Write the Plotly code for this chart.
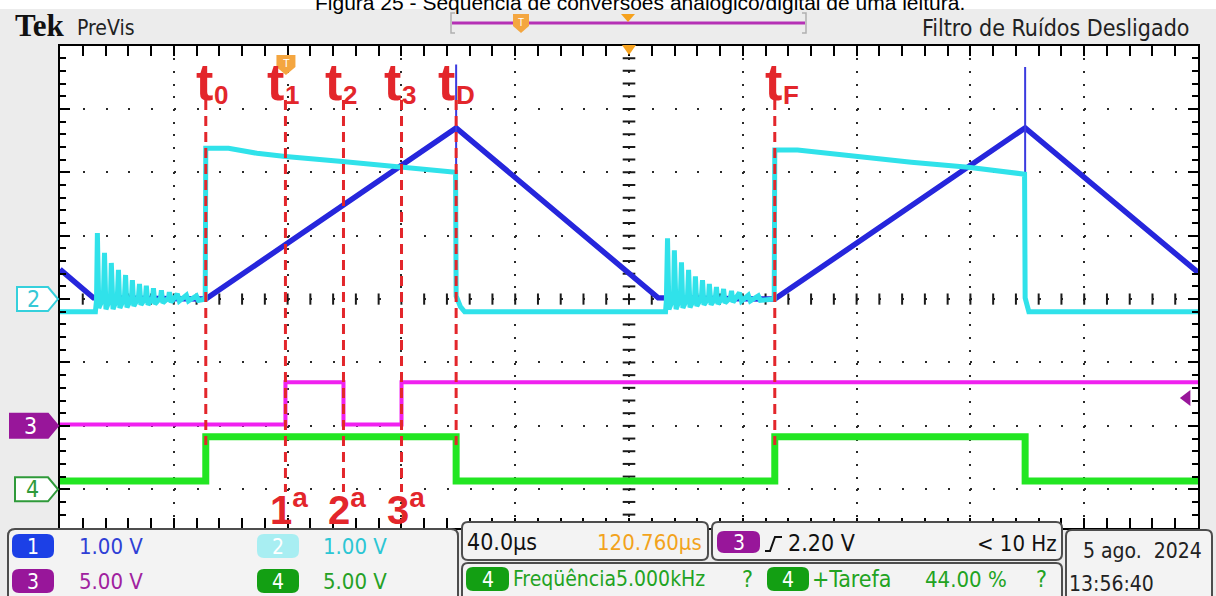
import numpy as np
import plotly.graph_objects as go

W, H = 1216, 596

# ---------------- acquisition settings ----------------
TIME_PER_DIV = 40.0            # µs/div
H_POSITION = 120.760           # µs from trigger point to screen centre
N_HDIV = 10
TRIGGER_TIME = 0.0
TRIGGER_LEVEL = 2.20           # V, channel 3 rising edge
DIV_TOP = 4.0
DIV_BOTTOM = -3.611            # lowest graticule row left visible above the readout panel

CH_VOLTS_PER_DIV = [1.0, 1.0, 5.0, 5.0]
CH_POSITION = [0.0, 0.0, -2.0, -3.0]     # ground marker, in divisions

# ---------------- channel 1: triangle (integrator output) ----------------
CH1_T = [-79.24, -67.5, -28.0, 60.0, 131.0, 172.0, 260.0, 320.76]
CH1_V = [0.47, 0.02, 0.0, 2.70, 0.02, 0.0, 2.70, 0.42]
CH1_GLITCH_T = [60.0, 60.0, None, 260.0, 260.0]
CH1_GLITCH_V = [3.70, 1.88, None, 3.66, 1.85]

# ---------------- channel 2: sample/hold node ----------------
CH2_T = [
    -79.24, -66.8,
    -66.4, -66.1, -65.6, -64.0, -63.6, -63.1, -61.5, -61.2, -60.6,
    -59.1, -58.7, -58.2, -56.6, -56.2, -55.7, -54.1, -53.8, -53.3,
    -51.7, -51.3, -50.8, -49.2, -48.9, -48.3, -46.7, -46.4, -45.9,
    -43.9, -43.6, -43.1, -41.1, -40.8, -40.2, -38.0, -37.3, -34.8,
    -34.1, -31.3, -30.6, -28.2,
    -28.0, -20.0, -10.0, 0.0, 20.0, 40.0, 59.8,
    60.0, 61.5, 63.0, 133.6,
    133.9, 134.3, 134.8, 136.4, 136.7, 137.3, 138.8, 139.2, 139.7,
    141.3, 141.7, 142.2, 143.8, 144.1, 144.6, 146.2, 146.6, 147.1,
    148.7, 149.0, 149.6, 151.1, 151.5, 152.0, 153.6, 154.0, 154.5,
    156.4, 156.8, 157.3, 159.6, 160.3, 162.7, 163.4, 166.2, 166.9,
    171.8,
    172.0, 180.0, 200.0, 220.0, 240.0, 259.8,
    260.0, 261.3, 320.76,
]
CH2_V = [
    -0.20, -0.20,
    -0.02, 1.04, -0.14, 0.02, 0.73, -0.16, 0.02, 0.57, -0.16,
    0.02, 0.46, -0.14, 0.02, 0.38, -0.13, 0.02, 0.30, -0.11,
    0.02, 0.24, -0.09, 0.02, 0.21, -0.09, 0.02, 0.17, -0.08,
    0.02, 0.14, -0.06, 0.02, 0.11, -0.05, 0.08, -0.03, 0.06,
    -0.03, 0.05, -0.02, 0.0,
    2.38, 2.38, 2.30, 2.25, 2.17, 2.09, 2.00,
    0.05, -0.12, -0.20, -0.20,
    -0.02, 0.96, -0.16, 0.02, 0.77, -0.16, 0.02, 0.58, -0.14,
    0.02, 0.46, -0.13, 0.02, 0.36, -0.11, 0.02, 0.30, -0.09,
    0.02, 0.24, -0.09, 0.02, 0.19, -0.08, 0.02, 0.16, -0.06,
    0.02, 0.13, -0.05, 0.10, -0.03, 0.06, -0.03, 0.05, -0.02,
    0.0,
    2.35, 2.35, 2.25, 2.16, 2.08, 1.97,
    0.02, -0.20, -0.20,
]

# ---------------- channel 3: comparator / conversion strobe ----------------
CH3_T = [-79.24, 0.0, 0.0, 20.4, 20.4, 40.8, 40.8, 320.76]
CH3_V = [0.10, 0.10, 3.45, 3.45, 0.10, 0.10, 3.45, 3.45]

# ---------------- channel 4: task pulse (5 kHz, 44 %) ----------------
CH4_T = [-79.24, -28.0, -28.0, 60.0, 60.0, 172.0, 172.0, 260.0, 260.0, 320.76]
CH4_V = [0.65, 0.65, 4.15, 4.15, 0.65, 0.65, 4.15, 4.15, 0.65, 0.65]

# ---------------- time markers ----------------
EVENT_SUBSCRIPTS = ["0", "1", "2", "3", "D", "F"]
EVENT_TIMES = [-28.0, 0.0, 20.4, 40.8, 60.0, 172.0]
CONVERSION_ORDINALS = ["1", "2", "3"]
CONVERSION_TIMES = [0.0, 20.4, 40.8]

# ---------------- readout texts ----------------
CH_SCALE_TEXT = ["1.00 V", "1.00 V", "5.00 V", "5.00 V"]
TIMEBASE_TEXT = "40.0µs"
HPOS_TEXT = "120.760µs"
TRIGGER_TEXT = "2.20 V"
TRIGGER_FREQ_TEXT = "< 10 Hz"
MEAS_FREQ_TEXT = "Freqüência5.000kHz"
MEAS_DUTY_LABEL = "+Tarefa"
MEAS_DUTY_TEXT = "44.00 %"
DATE_TEXT = "5 ago.  2024"
TIME_TEXT = "13:56:40"
TITLE = "Figura 25 - Sequência de conversões analógico/digital de uma leitura."

# ---------------- styling ----------------
CH_COLORS = ["#2626dc", "#30e2ea", "#f021f0", "#22e622"]
CH_WIDTHS = [5.5, 5, 4, 7]
CH_TEXT_COLORS = ["#2f3fd6", "#2cc6d4", "#a0229f", "#25a125"]
CH_BADGE_COLORS = ["#1c40e6", "#a8eef2", "#98169a", "#139f13"]
RED = "#e3262b"
ORANGE = "#f4a640"
NARROW = "Liberation Sans Narrow, DejaVu Sans Condensed, Arial Narrow, sans-serif"
SANS = "Liberation Sans, Arial, sans-serif"
SERIF = "Liberation Serif, DejaVu Serif, serif"

GRID_L, GRID_R, GRID_T, GRID_B = 60, 1198, 45.5, 528

T_LEFT = H_POSITION - TIME_PER_DIV * N_HDIV / 2
T_RIGHT = H_POSITION + TIME_PER_DIV * N_HDIV / 2
DIV_PX = (GRID_B - GRID_T) / (DIV_TOP - DIV_BOTTOM)
MINOR_X_PX = (GRID_R - GRID_L) / N_HDIV / 5


def sx(px):
    return px / W


def sy(py):
    return 1 - py / H


annotations = []
shapes = []


def text(x, y, s, size, color, anchor="left", family=NARROW):
    annotations.append(dict(
        x=sx(x), y=sy(y), xref="paper", yref="paper", text=s, showarrow=False,
        xanchor=anchor, yanchor="middle",
        font=dict(size=size, color=color, family=family)))


def screen_shape(path, fill="rgba(0,0,0,0)", line="rgba(0,0,0,0)", width=0):
    # path given in screen pixels (x right, y down), anchored at the top-left corner
    shapes.append(dict(
        type="path", xref="paper", yref="paper", xsizemode="pixel", ysizemode="pixel",
        xanchor=0, yanchor=1, path=path, fillcolor=fill,
        line=dict(color=line, width=width), layer="above"))


def poly(points, close=True):
    d = "M" + " L".join(f"{x},{-y}" for x, y in points)
    return d + (" Z" if close else "")


def rounded(x0, y0, x1, y1, r):
    return (f"M{x0 + r},{-y0} L{x1 - r},{-y0} Q{x1},{-y0} {x1},{-(y0 + r)} "
            f"L{x1},{-(y1 - r)} Q{x1},{-y1} {x1 - r},{-y1} L{x0 + r},{-y1} "
            f"Q{x0},{-y1} {x0},{-(y1 - r)} L{x0},{-(y0 + r)} Q{x0},{-y0} {x0 + r},{-y0} Z")


def badge(x0, y0, x1, y1, fill, label):
    screen_shape(rounded(x0, y0, x1, y1, 7), fill=fill)
    text((x0 + x1) / 2, (y0 + y1) / 2 + 1, label, 21, "white", anchor="center")


def ch_range(i):
    return [(DIV_BOTTOM - CH_POSITION[i]) * CH_VOLTS_PER_DIV[i],
            (DIV_TOP - CH_POSITION[i]) * CH_VOLTS_PER_DIV[i]]


fig = go.Figure()

# ---------------- graticule centre-cross tick marks ----------------
minor_t = np.arange(T_LEFT, T_RIGHT + 1e-6, TIME_PER_DIV / 5)[1:-1]
minor_d = np.arange(-18, 20) * 0.2
fig.add_trace(go.Scatter(
    x=minor_t, y=np.zeros_like(minor_t), mode="markers", yaxis="y", cliponaxis=False,
    marker=dict(symbol="line-ns", size=8, line=dict(width=2, color="#1a1a1a")),
    hoverinfo="skip", showlegend=False))
fig.add_trace(go.Scatter(
    x=np.full_like(minor_d, H_POSITION), y=minor_d, mode="markers", yaxis="y",
    marker=dict(symbol="line-ew", size=9, line=dict(width=2, color="#1a1a1a")),
    hoverinfo="skip", showlegend=False))

# ---------------- waveforms ----------------
for idx, (t, v) in [(3, (CH4_T, CH4_V)), (2, (CH3_T, CH3_V)),
                    (1, (CH2_T, CH2_V)), (0, (CH1_T, CH1_V))]:
    fig.add_trace(go.Scatter(
        x=t, y=v, mode="lines", yaxis=f"y{idx + 2}",
        line=dict(color=CH_COLORS[idx], width=CH_WIDTHS[idx]),
        hoverinfo="skip", showlegend=False))
fig.add_trace(go.Scatter(
    x=CH1_GLITCH_T, y=CH1_GLITCH_V, mode="lines", yaxis="y2",
    line=dict(color="#3b3bdf", width=2), hoverinfo="skip", showlegend=False))

# trigger level indicator on the right edge
fig.add_trace(go.Scatter(
    x=[T_RIGHT - 3.9], y=[TRIGGER_LEVEL], mode="markers", yaxis="y4", cliponaxis=False,
    marker=dict(symbol="triangle-left", size=14, color="#98169a"),
    hoverinfo="skip", showlegend=False))

# ---------------- event markers (red dashed lines + labels) ----------------
LABEL_NUDGE = {"0": 8, "F": 8}
for sub, t in zip(EVENT_SUBSCRIPTS, EVENT_TIMES):
    end_py = 492 if t in CONVERSION_TIMES else 445
    shapes.append(dict(type="line", xref="x", yref="paper", x0=t, x1=t,
                       y0=sy(100), y1=sy(end_py), layer="above",
                       line=dict(color=RED, width=3, dash="10px,6px")))
    nudge = LABEL_NUDGE.get(sub, 0)
    annotations.append(dict(x=t, xref="x", y=sy(82), yref="paper", text="<b>t</b>",
                            showarrow=False, xanchor="right", yanchor="middle",
                            xshift=nudge + 1, font=dict(size=52, color=RED, family=SANS)))
    annotations.append(dict(x=t, xref="x", y=sy(95), yref="paper", text=f"<b>{sub}</b>",
                            showarrow=False, xanchor="left", yanchor="middle",
                            xshift=nudge - 2, font=dict(size=26, color=RED, family=SANS)))
for n, t in zip(CONVERSION_ORDINALS, CONVERSION_TIMES):
    annotations.append(dict(x=t, xref="x", y=sy(507), yref="paper",
                            text=f"<b>{n}<sup>a</sup></b>", showarrow=False,
                            xanchor="left", yanchor="middle", xshift=-17,
                            font=dict(size=40, color=RED, family=SANS)))

# trigger point marker (orange "T") and horizontal position marker
shapes.append(dict(type="path", xref="x", yref="paper", xsizemode="pixel", ysizemode="pixel",
                   xanchor=TRIGGER_TIME, yanchor=1,
                   path="M-9,-55 L10,-55 L10,-67 L0.5,-75 L-9,-67 Z",
                   fillcolor=ORANGE, line=dict(width=0), layer="above"))
annotations.append(dict(x=TRIGGER_TIME, xref="x", y=sy(63), yref="paper", text="T",
                        showarrow=False, xanchor="center", yanchor="middle", xshift=1,
                        font=dict(size=11, color="white", family=SANS)))
shapes.append(dict(type="path", xref="x", yref="paper", xsizemode="pixel", ysizemode="pixel",
                   xanchor=H_POSITION, yanchor=1, path="M-7,-45 L7,-45 L0,-55 Z",
                   fillcolor="#f6a21e", line=dict(width=0), layer="above"))

# ---------------- channel ground markers on the left ----------------
MARKERS = [(1, 17, "white", "#35d0dc", "#35c8d6"),
           (2, 10, "#98169a", "#98169a", "white"),
           (3, 15, "white", "#2f9a3a", "#2f9a3a")]
for idx, x0, fill, edge, tcol in MARKERS:
    x1 = 58
    shapes.append(dict(type="path", xref="paper", yref="y", xsizemode="pixel",
                       ysizemode="pixel", xanchor=0, yanchor=CH_POSITION[idx],
                       path=f"M{x0},-12 L{x1 - 10},-12 L{x1},0 L{x1 - 10},12 L{x0},12 Z",
                       fillcolor=fill, line=dict(color=edge, width=2), layer="above"))
    annotations.append(dict(x=sx((x0 + x1 - 10) / 2 + 1), xref="paper", y=CH_POSITION[idx],
                            yref="y", text=str(idx + 1), showarrow=False, xanchor="center",
                            yanchor="middle", font=dict(size=23, color=tcol, family=NARROW)))

# ---------------- top bar ----------------
shapes.append(dict(type="rect", xref="paper", yref="paper", x0=0, x1=1, y0=sy(9), y1=1,
                   fillcolor="white", line=dict(width=0), layer="below"))
text(640, 3, TITLE, 21, "black", anchor="center", family=SANS)
text(13, 26, "<b>Tek</b>", 31, "#111", family=SERIF)
text(75, 28, "PreVis", 21, "#222")
text(1191, 28, "Filtro de Ruídos Desligado", 23, "#222", anchor="right")
screen_shape(poly([(455, 13), (451, 13), (451, 33), (455, 33)], close=False), line="#b0b0b0", width=1.5)
screen_shape(poly([(802, 13), (806, 13), (806, 33), (802, 33)], close=False), line="#b0b0b0", width=1.5)
screen_shape(poly([(452, 23), (805, 23)], close=False), line="#b531b5", width=3)
screen_shape(poly([(513, 14), (529, 14), (529, 26), (521, 33), (513, 26)]), fill=ORANGE)
text(521, 22, "T", 10, "white", anchor="center", family=SANS)
screen_shape(poly([(621, 14), (635, 14), (628, 22)]), fill="#f6a21e")

# ---------------- readout panel ----------------
BOX_FILL, BOX_EDGE = "#f3f3f3", "#4d4d4d"
screen_shape(rounded(8, 529, 458, 604, 7), fill=BOX_FILL, line=BOX_EDGE, width=2)
screen_shape(rounded(462, 522, 708, 560, 6), fill=BOX_FILL, line=BOX_EDGE, width=2)
screen_shape(rounded(712, 522, 1062, 560, 6), fill=BOX_FILL, line=BOX_EDGE, width=2)
screen_shape(rounded(462, 563, 1062, 604, 6), fill=BOX_FILL, line=BOX_EDGE, width=2)
screen_shape(rounded(1066, 530, 1212, 604, 6), fill=BOX_FILL, line=BOX_EDGE, width=2)

rows = [(546, 12, 77, 0), (546, 257, 321, 1), (581, 12, 77, 2), (581, 257, 321, 3)]
for yc, bx, tx, idx in rows:
    badge(bx, yc - 12, bx + 42, yc + 12, CH_BADGE_COLORS[idx], str(idx + 1))
    text(tx, yc, CH_SCALE_TEXT[idx], 22, CH_TEXT_COLORS[idx])

text(465, 542, TIMEBASE_TEXT, 23, "#111")
text(704, 542, HPOS_TEXT, 22, "#f2a31c", anchor="right")
badge(717, 531, 760, 553, CH_BADGE_COLORS[2], "3")
screen_shape(poly([(765, 551), (770, 551), (775, 537), (782, 537)], close=False), line="#111", width=2)
text(786, 543, TRIGGER_TEXT, 23, "#111")
text(1059, 543, TRIGGER_FREQ_TEXT, 22, "#111", anchor="right")

badge(466, 567, 509, 591, CH_BADGE_COLORS[3], "4")
text(511, 579, MEAS_FREQ_TEXT, 21, "#22a322")
text(747, 579, "?", 23, "#22a322", anchor="center")
badge(767, 567, 809, 591, CH_BADGE_COLORS[3], "4")
text(810, 579, MEAS_DUTY_LABEL, 23, "#22a322")
text(923, 579, MEAS_DUTY_TEXT, 22, "#22a322")
text(1041, 579, "?", 23, "#22a322", anchor="center")

text(1081, 551, DATE_TEXT, 21, "#222")
text(1067, 584, TIME_TEXT, 21, "#222")

# ---------------- axes ----------------
xdom = [sx(GRID_L), sx(GRID_R)]
ydom = [sy(GRID_B), sy(GRID_T)]
frame = dict(showline=True, linecolor="black", linewidth=2, mirror="allticks",
             ticks="inside", ticklen=10, tickwidth=2, tickcolor="black",
             showticklabels=False, zeroline=False, showgrid=True,
             gridcolor="#2a2a2a", gridwidth=2, fixedrange=True)

layout_axes = dict(
    xaxis=dict(domain=xdom, range=[T_LEFT, T_RIGHT], tick0=H_POSITION, dtick=TIME_PER_DIV,
               griddash=f"2px,{DIV_PX / 5 - 2:.2f}px",
               minor=dict(tick0=H_POSITION, dtick=TIME_PER_DIV / 5, ticks="inside",
                          ticklen=6, tickwidth=2, tickcolor="black", showgrid=False),
               **frame),
    yaxis=dict(domain=ydom, range=[DIV_BOTTOM, DIV_TOP], tick0=0, dtick=1,
               griddash=f"2px,{MINOR_X_PX - 2:.2f}px",
               minor=dict(tick0=0, dtick=0.2, ticks="inside", ticklen=6, tickwidth=2,
                          tickcolor="black", showgrid=False),
               **frame),
)
for i in range(4):
    layout_axes[f"yaxis{i + 2}"] = dict(overlaying="y", domain=ydom, range=ch_range(i),
                                        visible=False, fixedrange=True)

fig.update_layout(
    width=W, height=H, margin=dict(l=0, r=0, t=0, b=0),
    paper_bgcolor="#ececec", plot_bgcolor="white",
    showlegend=False, hovermode=False,
    shapes=shapes, annotations=annotations,
    **layout_axes,
)

fig.write_html("out.html")
